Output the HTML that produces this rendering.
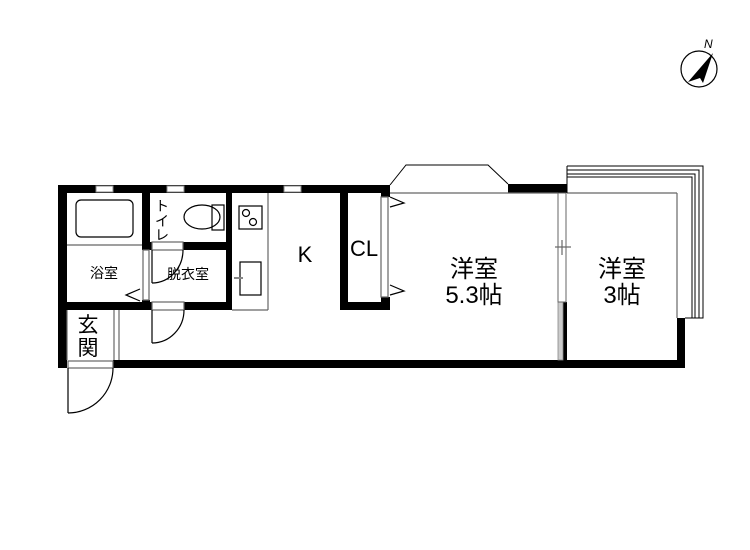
<!DOCTYPE html><html><head><meta charset="utf-8"><style>body{margin:0;background:#fff}svg{display:block}text{font-family:"Liberation Sans","Noto Sans CJK JP",sans-serif;fill:#000}</style></head><body>
<svg width="750" height="550" viewBox="0 0 750 550" xmlns="http://www.w3.org/2000/svg">
<g fill="#000">
<rect x="58" y="185" width="332" height="8"/>
<rect x="58" y="185" width="9" height="183"/>
<rect x="113" y="360" width="572" height="8"/>
<rect x="508" y="184" width="59" height="9"/>
<rect x="677" y="318" width="8" height="50"/>
<rect x="142" y="193" width="8" height="57"/>
<rect x="142" y="300" width="8" height="10"/>
<rect x="67" y="302" width="85" height="8"/>
<rect x="184" y="302" width="48" height="8"/>
<rect x="150" y="242" width="2" height="8"/>
<rect x="183" y="242" width="49" height="8"/>
<rect x="226" y="193" width="6" height="117"/>
<rect x="340" y="193" width="8" height="117"/>
<rect x="340" y="302" width="50" height="8"/>
<rect x="381" y="185" width="9" height="12"/>
<rect x="381" y="297" width="9" height="13"/>
<rect x="563" y="302" width="4" height="58"/>
</g>
<rect x="558" y="302" width="5" height="58" fill="#ccc" stroke="#888" stroke-width="0.8"/>
<g fill="#fff" stroke="#888" stroke-width="1">
<rect x="96" y="186" width="17" height="6"/><rect x="167" y="186" width="17" height="6"/><rect x="284" y="186" width="17" height="6"/>
</g>
<g fill="none" stroke="#000" stroke-width="1.2">
<rect x="76" y="200" width="57" height="37" rx="5"/>
<line x1="67" y1="245" x2="142" y2="245" stroke="#666"/>
<rect x="143" y="250" width="6" height="50" stroke="#666"/>
<polyline points="140,289 126,295 140,301"/>
<ellipse cx="202" cy="217" rx="18" ry="12"/>
<rect x="212" y="205" width="12" height="25"/>
<rect x="152" y="242" width="31" height="8" stroke="#666"/>
<path d="M152,283 A31,33 0 0 0 183,250"/>
<line x1="152" y1="250" x2="152" y2="283"/>
<rect x="152" y="302" width="32" height="8" stroke="#666"/>
<path d="M152,343 A32,33 0 0 0 184,310"/>
<line x1="152" y1="310" x2="152" y2="343"/>
<line x1="232" y1="310" x2="268" y2="310" stroke="#666"/>
<line x1="268" y1="193" x2="268" y2="310" stroke="#666"/>
<rect x="239" y="206" width="23" height="23"/>
<circle cx="246" cy="213" r="3.5"/><circle cx="253" cy="222" r="3.5"/>
<rect x="240" y="262" width="21" height="33"/>
<path d="M234,278 h9" stroke="#888" stroke-width="2"/>
<rect x="381" y="197" width="7" height="100" stroke="#666"/>
<polyline points="390,197 404,203 390,207"/>
<polyline points="390,285 404,291 390,295"/>
<polyline points="390,185 406,165 488,165 508,184" stroke-width="1"/>
<line x1="390" y1="193" x2="558" y2="193" stroke="#666"/>
<rect x="558" y="193" width="8" height="109" stroke="#666" stroke-width="1"/>
<line x1="555" y1="247" x2="571" y2="247" stroke="#666"/>
<line x1="562" y1="240" x2="562" y2="255" stroke="#666"/>
<line x1="567" y1="193" x2="677" y2="193" stroke="#666"/>
<line x1="677" y1="193" x2="677" y2="318" stroke="#666"/>
<line x1="567" y1="166" x2="567" y2="193" stroke-width="1"/>
<polyline points="567,166 703,166 703,318 685,318" stroke-width="1"/>
<polyline points="567,170 699,170 699,318" stroke-width="1"/>
<polyline points="567,174 695,174 695,318" stroke-width="1"/>
<polyline points="567,177 692,177 692,318" stroke-width="1"/>
<line x1="67" y1="310" x2="67" y2="360" stroke="#666"/>
<line x1="114" y1="310" x2="114" y2="360" stroke="#666"/>
<line x1="119" y1="310" x2="119" y2="360" stroke="#666"/>
<rect x="68" y="361" width="45" height="7" stroke="#666"/>
<path d="M68,413 A45,45 0 0 0 113,368"/>
<line x1="68" y1="368" x2="68" y2="413"/>
<circle cx="699" cy="69" r="18"/>
</g>
<path d="M713,53 L688,82 L700,78 L703,83 Z" fill="#000"/>
<text x="704" y="48" font-size="12" font-style="italic">N</text>
<text x="104" y="278" font-size="14" text-anchor="middle">浴室</text>
<text x="188" y="279" font-size="14" text-anchor="middle">脱衣室</text>
<text x="162" y="211" font-size="14" text-anchor="middle">ト</text><text x="162" y="226" font-size="14" text-anchor="middle">イ</text><text x="162" y="240" font-size="14" text-anchor="middle">レ</text>
<text x="88" y="332" font-size="21" text-anchor="middle">玄</text>
<text x="88" y="355" font-size="21" text-anchor="middle">関</text>
<text x="305" y="262" font-size="22" text-anchor="middle">K</text>
<text x="364" y="256" font-size="22" text-anchor="middle">CL</text>
<text x="474" y="277" font-size="24" text-anchor="middle">洋室</text>
<text x="474" y="303" font-size="24" text-anchor="middle">5.3帖</text>
<text x="622" y="277" font-size="24" text-anchor="middle">洋室</text>
<text x="622" y="303" font-size="24" text-anchor="middle">3帖</text>
</svg></body></html>
